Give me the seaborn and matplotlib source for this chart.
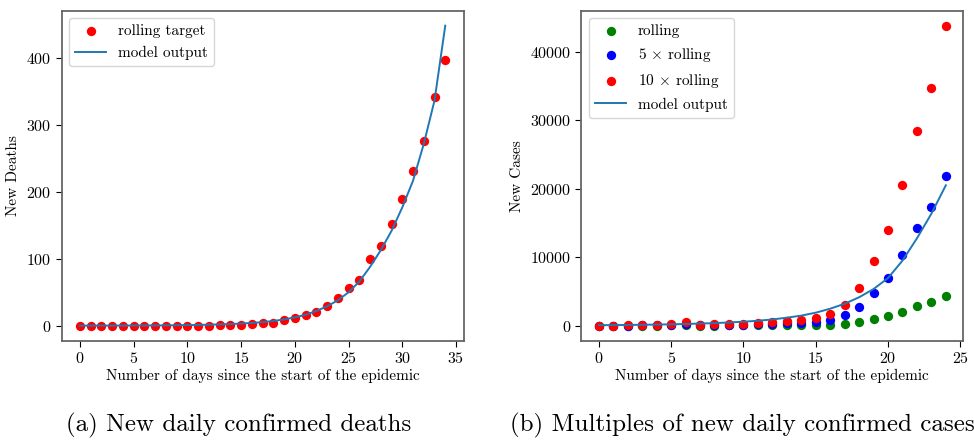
import matplotlib
matplotlib.use("Agg")
import matplotlib.pyplot as plt
import pandas as pd
import seaborn as sns

# (a) deaths
death_days = list(range(35))
death_target = [0, 0, 0, 0, 0, 0, 0, 0, 0, 0, 0, 0, 0, 0.5, 1, 1.5, 2.5, 4, 4,
                8, 11.4, 16, 21, 29, 42, 57, 68, 100, 120, 152, 190, 231, 277, 343, 398]
death_model = [0.07, 0.1, 0.12, 0.15, 0.2, 0.25, 0.3, 0.4, 0.5, 0.7, 0.9, 1.1, 1.5,
               1.9, 2.4, 3.2, 4.1, 5.3, 7, 9.4, 12.4, 16.4, 22, 29, 38, 50, 66, 88,
               113, 142, 177, 217, 272, 337, 449]

# (b) cases
case_days = list(range(25))
rolling = [0, 2, 5, 10, 15, 29, 54, 15, 24, 29, 29, 39, 54, 68, 88, 117, 170, 302,
           546, 950, 1390, 2060, 2845, 3465, 4380]
rolling5 = [5 * v for v in rolling]
rolling10 = [10 * v for v in rolling]
case_model = [75, 90, 110, 135, 165, 200, 250, 310, 380, 470, 580, 720, 910, 1170,
              1470, 1900, 2480, 3200, 4150, 5350, 6950, 9500, 12750, 16350, 20500]

plt.rcParams['font.family'] = 'serif'
plt.rcParams['font.serif'] = ['cmr10']
plt.rcParams['mathtext.fontset'] = 'cm'
plt.rcParams['axes.formatter.use_mathtext'] = True
plt.rcParams['axes.unicode_minus'] = False
plt.rcParams['font.size'] = 11

fig = plt.figure(figsize=(9.74, 4.4), dpi=100)
ax1 = fig.add_axes([0.0633, 0.2257, 0.4126, 0.75])
ax2 = fig.add_axes([0.597, 0.2257, 0.3919, 0.75])

dfa = pd.DataFrame({'day': death_days, 'target': death_target, 'model': death_model})
sns.scatterplot(data=dfa, x='day', y='target', color='red', s=45, linewidth=0,
                label='rolling target', ax=ax1, zorder=2)
sns.lineplot(data=dfa, x='day', y='model', color='#1f77b4', linewidth=1.4,
             label='model output', ax=ax1, zorder=3)
ax1.set_ylabel('New Deaths', fontsize=11)

dfb = pd.DataFrame({'day': case_days, 'r1': rolling, 'r5': rolling5,
                    'r10': rolling10, 'model': case_model})
sns.scatterplot(data=dfb, x='day', y='r1', color='green', s=45, linewidth=0,
                label='rolling', ax=ax2, zorder=2)
sns.scatterplot(data=dfb, x='day', y='r5', color='blue', s=45, linewidth=0,
                label=r'5 $\times$ rolling', ax=ax2, zorder=2)
sns.scatterplot(data=dfb, x='day', y='r10', color='red', s=45, linewidth=0,
                label=r'10 $\times$ rolling', ax=ax2, zorder=2)
sns.lineplot(data=dfb, x='day', y='model', color='#1f77b4', linewidth=1.4,
             label='model output', ax=ax2, zorder=3)
ax2.set_ylabel('New Cases', fontsize=11)

for ax in (ax1, ax2):
    ax.set_xlabel('Number of days since the start of the epidemic', fontsize=11, labelpad=2)
    ax.legend(loc='upper left', fontsize=11, handlelength=2.0)
    for sp in ax.spines.values():
        sp.set_color('0.4')
        sp.set_linewidth(1.3)
    ax.tick_params(labelsize=11.5, length=4)

ax1.set_xticks([0, 5, 10, 15, 20, 25, 30, 35])
ax1.set_yticks([0, 100, 200, 300, 400])
ax2.set_xticks([0, 5, 10, 15, 20, 25])
ax2.set_yticks([0, 10000, 20000, 30000, 40000])

fig.text(0.245, 0.032, '(a) New daily confirmed deaths', ha='center', va='center', fontsize=18)
fig.text(0.762, 0.032, '(b) Multiples of new daily confirmed cases', ha='center', va='center', fontsize=18)

fig.savefig('out.png', dpi=100)
